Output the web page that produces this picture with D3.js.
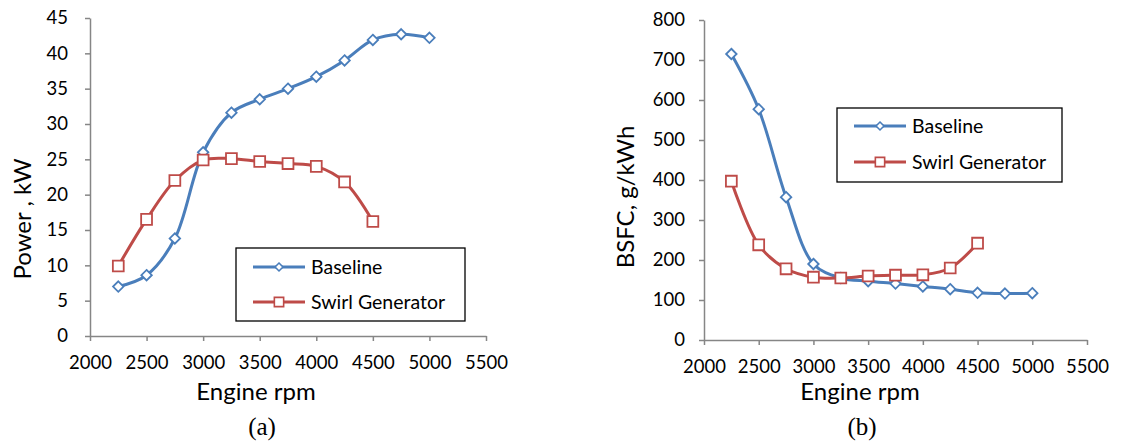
<!DOCTYPE html>
<html><head><meta charset="utf-8">
<script src="https://cdn.jsdelivr.net/npm/d3@7"></script>
<style>body{margin:0;background:#fff}svg{display:block}</style>
</head><body>
<svg id="c" width="1121" height="445"></svg>
<script>
const rpm = [2250,2500,2750,3000,3250,3500,3750,4000,4250,4500,4750,5000];
const powerBaseline = [7,8.6,13.8,26,31.6,33.5,35,36.7,39,41.9,42.7,42.2];
const powerSwirl = [9.9,16.5,22,24.9,25.1,24.7,24.4,24,21.8,16.2];
const bsfcBaseline = [715,577,357,190,155,147,141,134,127,118,116,117];
const bsfcSwirl = [397,238,178,157,155,160,162,163,180,242];
const xTicks = [2000,2500,3000,3500,4000,4500,5000,5500];
const powerTicks = [0,5,10,15,20,25,30,35,40,45];
const bsfcTicks = [0,100,200,300,400,500,600,700,800];
const seriesNames = ["Baseline","Swirl Generator"];

const BLUE="#4A7EBB", RED="#BE4B48", AXIS="#868686";
const FONT="Lato, 'Open Sans', sans-serif";
const svg = d3.select("#c");

function panel(o){
  const g = svg.append("g");
  const x = d3.scaleLinear().domain([2000,5500]).range([o.x0,o.x1]);
  const y = d3.scaleLinear().domain(o.ydom).range([o.y0,o.y1]);
  const xa = g.append("g").attr("transform",`translate(0,${o.y0})`)
    .call(d3.axisBottom(x).tickValues(xTicks).tickSize(5).tickSizeOuter(0).tickPadding(15).tickFormat(d3.format("d")));
  const ya = g.append("g").attr("transform",`translate(${o.x0},0)`)
    .call(d3.axisLeft(y).tickValues(o.yticks).tickSize(5).tickSizeOuter(0).tickPadding(o.ypad).tickFormat(d3.format("d")));
  [xa,ya].forEach(a=>{
    a.selectAll("path,line").attr("stroke",AXIS).attr("stroke-width",1.5);
    a.selectAll("text").attr("font-family",FONT).attr("font-size",18.5).attr("fill","#000");
  });
  const line = d3.line().x(d=>x(d[0])).y(d=>y(d[1])).curve(d3.curveCatmullRom.alpha(0.5));
  const dB = o.base.map((v,i)=>[rpm[i],v]);
  const dS = o.swirl.map((v,i)=>[rpm[i],v]);
  g.append("path").attr("d",line(dB)).attr("fill","none").attr("stroke",BLUE).attr("stroke-width",3);
  g.append("path").attr("d",line(dS)).attr("fill","none").attr("stroke",RED).attr("stroke-width",3);
  const dia = d3.symbol().type(d3.symbolDiamond2).size(70);
  const sq = d3.symbol().type(d3.symbolSquare2).size(150);
  g.selectAll(".mb").data(dB).join("path").attr("d",dia)
    .attr("transform",d=>`translate(${x(d[0])},${y(d[1])})`)
    .attr("fill","#fff").attr("stroke",BLUE).attr("stroke-width",1.8);
  g.selectAll(".ms").data(dS).join("path").attr("d",sq)
    .attr("transform",d=>`translate(${x(d[0])},${y(d[1])})`)
    .attr("fill","#fff").attr("stroke",RED).attr("stroke-width",1.8);
  // titles
  g.append("text").attr("x",o.xtx).attr("y",400).attr("text-anchor","middle")
    .attr("font-family",FONT).attr("font-size",24).text("Engine rpm");
  g.append("text").attr("transform",`translate(${o.ytx},${o.yty}) rotate(-90)`).attr("text-anchor","middle")
    .attr("font-family",FONT).attr("font-size",24).text(o.ytitle);
  g.append("text").attr("x",o.labx).attr("y",435).attr("text-anchor","middle")
    .attr("font-family","'Liberation Serif', 'Times New Roman', serif").attr("font-size",25).text(o.lab);
  // legend
  const L = o.leg;
  g.append("rect").attr("x",L.x).attr("y",L.y).attr("width",L.w).attr("height",L.h)
    .attr("fill","#fff").attr("stroke","#000").attr("stroke-width",1.3);
  seriesNames.forEach((n,i)=>{
    const yy = L.y + L.r[i];
    const col = i===0?BLUE:RED;
    g.append("line").attr("x1",L.x+17).attr("x2",L.x+69).attr("y1",yy).attr("y2",yy)
      .attr("stroke",col).attr("stroke-width",3);
    g.append("path").attr("d", i===0? d3.symbol().type(d3.symbolDiamond2).size(40)() : d3.symbol().type(d3.symbolSquare2).size(110)())
      .attr("transform",`translate(${L.x+43},${yy})`).attr("fill","#fff").attr("stroke",col).attr("stroke-width",1.6);
    g.append("text").attr("x",L.x+75).attr("y",yy).attr("dy","0.35em")
      .attr("font-family",FONT).attr("font-size",19.5).text(n);
  });
}

panel({x0:90,x1:486,y0:336,y1:18,ydom:[0,45],yticks:powerTicks,ypad:17,base:powerBaseline,swirl:powerSwirl,
  ytitle:"Power , kW",ytx:31,yty:219,lab:"(a)",labx:262,xtx:256,
  leg:{x:236,y:248,w:229,h:73,r:[19,54]}});
panel({x0:704,x1:1087,y0:340,y1:20,ydom:[0,800],yticks:bsfcTicks,ypad:14,base:bsfcBaseline,swirl:bsfcSwirl,
  ytitle:"BSFC, g/kWh",ytx:634,yty:197,lab:"(b)",labx:862,xtx:860,
  leg:{x:837,y:108,w:225,h:74,r:[18,54]}});
</script>
</body></html>
